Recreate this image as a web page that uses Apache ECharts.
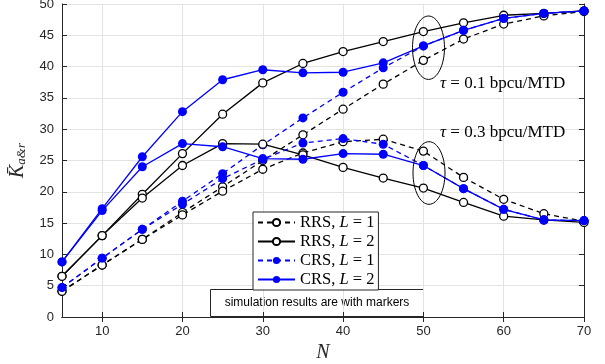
<!DOCTYPE html>
<html><head><meta charset="utf-8">
<script src="https://cdn.jsdelivr.net/npm/echarts@6/dist/echarts.min.js"></script>
<style>html,body{margin:0;padding:0;background:#fff}#c{width:605px;height:364px}</style>
</head><body><div id="c"></div>
<script>
const N = [5,10,15,20,25,30,35,40,45,50,55,60,65,70];
// tau = 0.1 bpcu/MTD
const rrs1_a = [4.1, 8.3, 12.4, 16.7, 20.8, 25.0, 29.1, 33.2, 37.2, 41.0, 44.4, 46.8, 48.1, 48.8];
const rrs2_a = [6.5, 13.0, 19.6, 26.1, 32.4, 37.4, 40.5, 42.4, 44.0, 45.6, 47.0, 48.2, 48.5, 48.9];
const crs1_a = [4.7, 9.4, 14.0, 18.5, 22.9, 27.5, 31.8, 35.9, 39.8, 43.3, 45.8, 47.7, 48.5, 48.9];
const crs2_a = [8.8, 17.3, 25.6, 32.8, 37.9, 39.5, 39.0, 39.1, 40.6, 43.3, 45.8, 47.7, 48.5, 48.9];
// tau = 0.3 bpcu/MTD
const rrs1_b = [4.1, 8.3, 12.4, 16.3, 20.1, 23.6, 26.2, 28.0, 28.4, 26.5, 22.3, 18.8, 16.5, 15.3];
const rrs2_b = [6.5, 13.0, 19.0, 24.2, 27.7, 27.6, 25.9, 23.9, 22.2, 20.6, 18.3, 16.1, 15.5, 15.1];
const crs1_b = [4.7, 9.4, 14.0, 18.0, 22.1, 25.2, 27.8, 28.5, 27.6, 24.2, 20.5, 17.2, 15.5, 15.4];
const crs2_b = [8.8, 17.0, 24.0, 27.7, 27.2, 25.3, 25.2, 26.1, 26.0, 24.2, 20.5, 17.2, 15.5, 15.4];
const xTicks = [10,20,30,40,50,60,70];
const yTicks = [0,5,10,15,20,25,30,35,40,45,50];
const names = ['RRS, L = 1','RRS, L = 2','CRS, L = 1','CRS, L = 2'];

function mk(name, vals, color, dashed, filled) {
  return {
    type:'line', name: name, data: N.map((n,i)=>[n, vals[i]]),
    symbol:'circle', symbolSize: filled ? 9 : 8, showSymbol:true,
    lineStyle:{color: color, width:1.3, type: dashed ? [5,4] : 'solid'},
    itemStyle:{color: filled ? color : '#fff', borderColor: color, borderWidth: filled ? 0 : 1.3},
    emphasis:{disabled:true}, animation:false
  };
}
const BLUE = '#0000ff', BLACK = '#000';
const series = [
  mk(names[0], rrs1_a, BLACK, true, false),
  mk(names[1], rrs2_a, BLACK, false, false),
  mk(names[2], crs1_a, BLUE, true, true),
  mk(names[3], crs2_a, BLUE, false, true),
  mk(names[0], rrs1_b, BLACK, true, false),
  mk(names[1], rrs2_b, BLACK, false, false),
  mk(names[2], crs1_b, BLUE, true, true),
  mk(names[3], crs2_b, BLUE, false, true)
];
const axisLine = {show:true, lineStyle:{color:'#262626', width:1}};
const serif = '"Liberation Serif","DejaVu Serif",serif';
const sans = '"Liberation Sans",Arial,sans-serif';
const chart = echarts.init(document.getElementById('c'), null, {renderer:'canvas'});
chart.setOption({
  backgroundColor:'#fff',
  animation:false,
  grid:{left:62, right:21, top:4, bottom:47, containLabel:false, outerBoundsMode:'none'},
  xAxis:[{
    type:'value', min:5, max:70, position:'bottom',
    axisLine: axisLine,
    axisTick:{show:true, inside:true, length:5, customValues:xTicks, lineStyle:{color:'#262626'}},
    axisLabel:{customValues:xTicks, color:'#262626', fontSize:13, fontFamily:sans, margin:8},
    splitLine:{show:true, lineStyle:{color:'#e3e3e3', width:1}},
    name:'N', nameLocation:'middle', nameGap:26,
    nameTextStyle:{fontFamily:serif, fontStyle:'italic', fontSize:20, color:'#262626'}
  },{
    type:'value', min:5, max:70, position:'top',
    axisLine: axisLine,
    axisTick:{show:true, inside:true, length:5, customValues:xTicks, lineStyle:{color:'#262626'}},
    axisLabel:{show:false}, splitLine:{show:false}
  }],
  yAxis:[{
    type:'value', min:0, max:50, interval:5, position:'left',
    axisLine: axisLine,
    axisTick:{show:true, inside:true, length:5, lineStyle:{color:'#262626'}},
    axisLabel:{color:'#262626', fontSize:13, fontFamily:sans, margin:8},
    splitLine:{show:true, lineStyle:{color:'#e3e3e3', width:1}},
    name:'{k|K\u0304}{s|a&r}', nameLocation:'middle', nameGap:34, nameRotate:90,
    nameTextStyle:{rich:{
      k:{fontFamily:serif, fontStyle:'italic', fontSize:20, color:'#262626'},
      s:{fontFamily:serif, fontStyle:'italic', fontSize:13, color:'#262626', verticalAlign:'bottom', padding:[8,0,0,0]}
    }}
  },{
    type:'value', min:0, max:50, interval:5, position:'right',
    axisLine: axisLine,
    axisTick:{show:true, inside:true, length:5, lineStyle:{color:'#262626'}},
    axisLabel:{show:false}, splitLine:{show:false}
  }],
  legend:{
    show:true, orient:'vertical', left:253, top:212,
    data: names,
    backgroundColor:'#fff', borderColor:'#262626', borderWidth:1,
    padding:[2,4,2,4], itemGap:2, itemWidth:37, itemHeight:9,
    selectedMode:false,
    formatter: function(n){ const p = n.split('L'); return p[0] + '{i|L}' + p[1]; },
    textStyle:{fontFamily:serif, fontSize:16.5, color:'#000', lineHeight:17,
      rich:{i:{fontFamily:serif, fontStyle:'italic', fontSize:16.5, color:'#000', lineHeight:17}}}
  },
  graphic:[
    {type:'ellipse', shape:{cx:428.5, cy:47.7, rx:16, ry:31.7}, style:{fill:null, stroke:'#000', lineWidth:1}, z:50},
    {type:'ellipse', shape:{cx:429, cy:173, rx:16, ry:31.3}, style:{fill:null, stroke:'#000', lineWidth:1}, z:50},
    {type:'text', left:440, top:75, z:50, style:{text:'{i|τ} = 0.1 bpcu/MTD', fontFamily:serif, fontSize:17, fill:'#000',
      rich:{i:{fontFamily:serif, fontStyle:'italic', fontSize:17, fill:'#000'}}}},
    {type:'text', left:440, top:124, z:50, style:{text:'{i|τ} = 0.3 bpcu/MTD', fontFamily:serif, fontSize:17, fill:'#000',
      rich:{i:{fontFamily:serif, fontStyle:'italic', fontSize:17, fill:'#000'}}}},
    {type:'group', left:210, top:289, z:60, children:[
      {type:'rect', shape:{x:0.5, y:0.5, width:213, height:27}, style:{fill:'#fff', stroke:'#262626', lineWidth:1}},
      {type:'text', x:107, y:14, style:{text:'simulation results are with markers', fontFamily:sans, fontSize:12, fill:'#000', align:'center', verticalAlign:'middle'}}
    ]}
  ],
  series: series
});
</script></body></html>
